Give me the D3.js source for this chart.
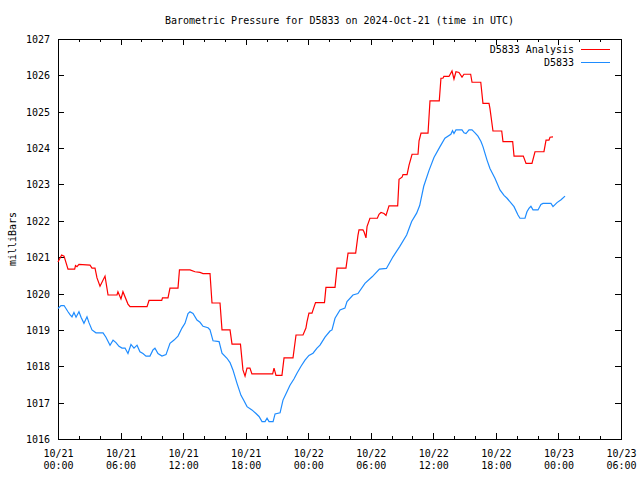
<!DOCTYPE html>
<html><head><meta charset="utf-8">
<script src="https://cdn.jsdelivr.net/npm/d3@7"></script>
<style>
body{margin:0;background:#fff}
svg{display:block}
text{font-family:"DejaVu Sans Mono",monospace;font-size:10px;fill:#000}
</style></head><body>
<svg id="c" width="640" height="480"></svg>
<script>
const title = "Barometric Pressure for D5833 on 2024-Oct-21 (time in UTC)";
const yLabel = "milliBars";
const seriesNames = ["D5833 Analysis", "D5833"];
const seriesColors = ["#ff0000", "#1e8cff"];
const yTicks = [1016,1017,1018,1019,1020,1021,1022,1023,1024,1025,1026,1027];
const xMajorHours = [0,6,12,18,24,30,36,42,48,54];

// hours since 2024-10-21 00:00 UTC
const analysisHours = [0.0,0.35,0.58,0.96,1.6,1.68,1.82,2.01,3.07,3.26,3.55,3.74,4.03,4.51,4.8,5.66,5.75,6.04,6.23,6.71,6.91,8.54,8.73,9.95,10.02,10.55,10.74,11.51,11.65,12.66,13.14,13.62,13.91,14.58,14.77,15.54,15.73,16.5,16.69,17.5,17.74,17.94,18.13,18.41,18.6,20.59,20.72,20.91,21.48,21.68,22.54,22.83,23.5,23.78,23.88,24.07,24.36,24.7,25.56,25.7,26.57,26.76,27.62,27.82,28.55,28.77,28.87,29.25,29.35,29.54,29.64,29.92,30.63,30.79,30.98,31.27,31.46,31.75,32.58,32.71,33.0,33.09,33.48,33.67,33.96,34.53,34.63,34.82,35.49,35.68,36.57,36.73,36.92,37.01,37.5,37.79,37.98,38.17,38.46,38.75,38.94,39.58,39.71,40.55,40.76,41.34,41.43,41.72,42.56,42.68,43.61,43.74,44.63,44.89,45.46,45.75,46.61,46.81,47.09,47.19,47.48];
const analysisValues = [1020.87,1021.06,1021.03,1020.67,1020.67,1020.77,1020.74,1020.8,1020.78,1020.7,1020.7,1020.43,1020.2,1020.48,1019.96,1019.96,1020.05,1019.85,1020.05,1019.71,1019.64,1019.64,1019.81,1019.81,1019.88,1019.88,1020.15,1020.15,1020.65,1020.65,1020.6,1020.58,1020.55,1020.55,1019.74,1019.74,1019.0,1019.0,1018.61,1018.61,1017.9,1017.73,1017.95,1017.95,1017.79,1017.79,1017.95,1017.75,1017.75,1018.23,1018.23,1018.86,1018.86,1019.05,1019.22,1019.46,1019.46,1019.75,1019.75,1020.17,1020.17,1020.7,1020.7,1021.11,1021.11,1021.6,1021.75,1021.75,1021.7,1021.53,1021.84,1022.07,1022.07,1022.18,1022.23,1022.2,1022.15,1022.41,1022.41,1023.14,1023.2,1023.27,1023.27,1023.53,1023.83,1023.83,1024.2,1024.41,1024.41,1025.3,1025.3,1025.92,1025.92,1025.97,1025.97,1026.12,1025.9,1026.1,1026.08,1025.95,1026.03,1026.03,1025.81,1025.81,1025.23,1025.23,1025.09,1024.47,1024.47,1024.18,1024.18,1023.78,1023.78,1023.58,1023.58,1023.9,1023.9,1024.22,1024.22,1024.3,1024.31];

const stationHours = [0.0,0.29,0.58,0.96,1.15,1.34,1.53,1.73,2.01,2.21,2.49,2.78,2.97,3.26,3.64,4.32,4.6,4.99,5.28,5.56,5.85,6.14,6.43,6.71,7.0,7.29,7.58,7.86,8.15,8.44,8.82,9.11,9.3,9.59,9.97,10.36,10.74,11.13,11.51,11.89,12.18,12.47,12.66,12.95,13.33,13.62,13.91,14.39,14.58,14.87,15.45,15.73,16.21,16.5,16.78,17.17,17.55,17.84,18.13,18.6,18.99,19.28,19.57,19.86,20.05,20.24,20.63,20.82,21.3,21.58,21.96,22.25,22.63,22.92,23.31,23.69,24.07,24.46,24.84,25.13,25.61,26.09,26.28,26.57,27.05,27.52,27.72,28.29,28.77,29.44,30.13,30.83,31.5,32.13,32.77,33.44,33.92,34.4,34.69,35.08,35.58,36.06,36.64,37.11,37.68,37.84,37.98,38.17,38.75,38.94,39.13,39.42,39.71,40.0,40.28,40.57,40.76,41.15,41.43,41.91,42.39,42.78,43.07,43.74,44.12,44.31,44.79,44.98,45.17,45.36,45.56,46.04,46.32,46.52,47.28,47.48,47.86,48.25,48.63];
const stationValues = [1019.59,1019.67,1019.67,1019.5,1019.42,1019.36,1019.48,1019.35,1019.5,1019.35,1019.18,1019.36,1019.2,1019.0,1018.92,1018.92,1018.8,1018.58,1018.72,1018.65,1018.55,1018.5,1018.5,1018.35,1018.6,1018.5,1018.58,1018.4,1018.35,1018.28,1018.28,1018.45,1018.5,1018.35,1018.28,1018.32,1018.63,1018.72,1018.83,1019.05,1019.18,1019.45,1019.5,1019.45,1019.27,1019.21,1019.1,1019.06,1019.0,1018.7,1018.68,1018.36,1018.22,1018.1,1017.9,1017.53,1017.2,1017.05,1016.89,1016.8,1016.7,1016.62,1016.48,1016.48,1016.57,1016.48,1016.48,1016.69,1016.72,1017.07,1017.3,1017.48,1017.65,1017.81,1018.0,1018.17,1018.3,1018.36,1018.5,1018.58,1018.8,1018.97,1019.0,1019.32,1019.55,1019.6,1019.78,1019.96,1020.0,1020.28,1020.46,1020.67,1020.69,1021.01,1021.29,1021.61,1021.98,1022.21,1022.42,1022.95,1023.38,1023.74,1024.04,1024.27,1024.38,1024.48,1024.4,1024.5,1024.5,1024.42,1024.4,1024.5,1024.5,1024.42,1024.33,1024.18,1024.04,1023.67,1023.44,1023.17,1022.85,1022.7,1022.62,1022.39,1022.16,1022.07,1022.07,1022.25,1022.34,1022.4,1022.3,1022.3,1022.45,1022.48,1022.48,1022.39,1022.5,1022.58,1022.68];

const t0 = Date.UTC(2024, 9, 21, 0, 0);
const toDate = h => new Date(t0 + h * 3600000);

const L = 58, R = 621, T = 39, B = 439;
const svg = d3.select("#c");

const x = d3.scaleUtc().domain([toDate(0), toDate(54)]).range([L, R]);
const y = d3.scaleLinear().domain([1016, 1027]).range([B, T]);

const majors = xMajorHours.map(toDate);
const minors = d3.range(0, 55, 2).filter(h => h % 6 !== 0).map(toDate);

// bottom axis major with labels
const gB = svg.append("g").attr("transform", `translate(0,${B})`)
  .call(d3.axisBottom(x).tickValues(majors).tickSizeInner(-6).tickSizeOuter(0).tickPadding(10)
    .tickFormat(d => d3.utcFormat("%m/%d")(d) + "|" + d3.utcFormat("%H:%M")(d)));
gB.select(".domain").remove();
gB.selectAll(".tick text").each(function() {
  const parts = d3.select(this).text().split("|");
  const t = d3.select(this).text(null).attr("y", 0).attr("dy", null);
  t.append("tspan").attr("x", 0).attr("y", 18).text(parts[0]);
  t.append("tspan").attr("x", 0).attr("y", 30).text(parts[1]);
});
const gBm = svg.append("g").attr("transform", `translate(0,${B})`)
  .call(d3.axisBottom(x).tickValues(minors).tickSizeInner(-3).tickSizeOuter(0).tickFormat(""));
gBm.select(".domain").remove();
// top mirrors
const gT = svg.append("g").attr("transform", `translate(0,${T})`)
  .call(d3.axisTop(x).tickValues(majors).tickSizeInner(-6).tickSizeOuter(0).tickFormat(""));
gT.select(".domain").remove();
const gTm = svg.append("g").attr("transform", `translate(0,${T})`)
  .call(d3.axisTop(x).tickValues(minors).tickSizeInner(-3).tickSizeOuter(0).tickFormat(""));
gTm.select(".domain").remove();
// left axis
const gL = svg.append("g").attr("transform", `translate(${L},0)`)
  .call(d3.axisLeft(y).tickValues(yTicks).tickSizeInner(-6).tickSizeOuter(0).tickPadding(8).tickFormat(d3.format("d")));
gL.select(".domain").remove();
gL.selectAll(".tick text").attr("dy", "0.35em");
const gR = svg.append("g").attr("transform", `translate(${R},0)`)
  .call(d3.axisRight(y).tickValues(yTicks).tickSizeInner(-6).tickSizeOuter(0).tickFormat(""));
gR.select(".domain").remove();

svg.selectAll(".tick line").attr("stroke", "#000").attr("shape-rendering", "crispEdges");
svg.selectAll(".tick text").attr("font-family", "DejaVu Sans Mono").attr("font-size", 10).attr("fill", "#000");

// border
svg.append("rect").attr("x", L + 0.5).attr("y", T + 0.5).attr("width", R - L).attr("height", B - T)
  .attr("fill", "none").attr("stroke", "#000").attr("shape-rendering", "crispEdges");

// data lines
const line = d3.line().x(d => x(d[0])).y(d => y(d[1]));
const seriesData = [
  d3.zip(analysisHours.map(toDate), analysisValues),
  d3.zip(stationHours.map(toDate), stationValues)
];
seriesData.forEach((data, i) => {
  svg.append("path").datum(data).attr("d", line)
    .attr("fill", "none").attr("stroke", seriesColors[i]).attr("stroke-width", 1.2)
    .attr("stroke-linejoin", "miter");
});

// title
svg.append("text").attr("x", (L + R) / 2).attr("y", 20).attr("dy", "0.35em")
  .attr("text-anchor", "middle").text(title);
// y label
svg.append("text").attr("transform", `translate(12,${(T + B) / 2}) rotate(-90)`)
  .attr("dy", "0.35em").attr("text-anchor", "middle").text(yLabel);

// legend
seriesNames.forEach((name, i) => {
  const yy = 49 + i * 13;
  svg.append("text").attr("x", 574).attr("y", yy).attr("dy", "0.35em")
    .attr("text-anchor", "end").text(name);
  svg.append("line").attr("x1", 581).attr("x2", 610).attr("y1", yy + 0.5).attr("y2", yy + 0.5)
    .attr("stroke", seriesColors[i]).attr("stroke-width", 1).attr("shape-rendering", "crispEdges");
});
</script>
</body></html>
